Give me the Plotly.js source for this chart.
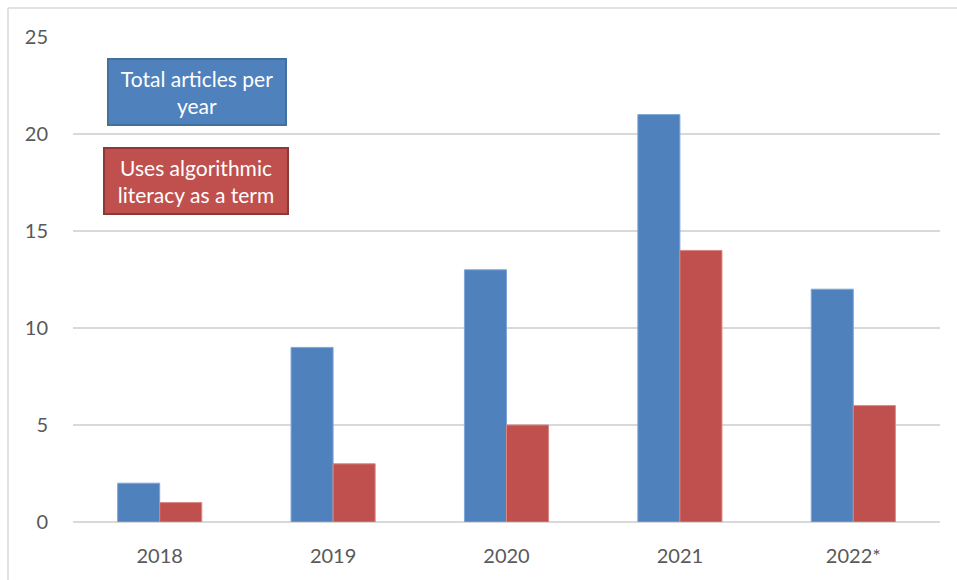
<!DOCTYPE html>
<html>
<head>
<meta charset="utf-8">
<script src="https://cdn.plot.ly/plotly-3.0.1.min.js"></script>
<style>html,body{margin:0;padding:0;background:#fff;}#chart{width:957px;height:580px;}</style>
</head>
<body>
<div id="chart"></div>
<script>
const years = ["2018", "2019", "2020", "2021", "2022*"];
const totalArticles = [2, 9, 13, 21, 12];
const usesTerm = [1, 3, 5, 14, 6];
const seriesNames = ["Total articles per<br>year", "Uses algorithmic<br>literacy as a term"];

const blue = "#4F81BD", red = "#C0504D";
const font = "Lato, 'Open Sans', sans-serif";

const traces = [
  {type: "bar", x: years, y: totalArticles, name: "Total articles per year",
   marker: {color: blue, line: {color: "#7EA6D8", width: 1}}, hoverinfo: "x+y"},
  {type: "bar", x: years, y: usesTerm, name: "Uses algorithmic literacy as a term",
   marker: {color: red, line: {color: "#D98583", width: 1}}, hoverinfo: "x+y"}
];

const layout = {
  width: 957, height: 580,
  margin: {l: 73, r: 17, t: 37, b: 58},
  paper_bgcolor: "#fff", plot_bgcolor: "#fff",
  barmode: "group", bargap: 0.515, bargroupgap: 0,
  showlegend: false,
  font: {family: font, color: "#595959", size: 20},
  xaxis: {
    type: "category", showgrid: false, showline: false, zeroline: false,
    ticks: "outside", ticklen: 16, tickcolor: "rgba(0,0,0,0)",
    tickfont: {family: font, size: 20, color: "#595959"}
  },
  yaxis: {
    range: [0, 25], dtick: 5, tick0: 0,
    showgrid: true, gridcolor: "#D9D9D9", gridwidth: 1.5,
    zeroline: true, zerolinecolor: "#D9D9D9", zerolinewidth: 1.5,
    showline: false, ticks: "outside", ticklen: 20, tickcolor: "rgba(0,0,0,0)",
    tickfont: {family: font, size: 20, color: "#595959"}
  },
  shapes: [
    {type: "line", xref: "paper", yref: "paper",
     x0: (8 - 73) / 867, x1: (960 - 73) / 867, y0: (522 - 8) / 485, y1: (522 - 8) / 485,
     line: {color: "#D9D9D9", width: 1.5}},
    {type: "line", xref: "paper", yref: "paper",
     x0: (8 - 73) / 867, x1: (8 - 73) / 867, y0: (522 - 8) / 485, y1: (522 - 600) / 485,
     line: {color: "#D9D9D9", width: 1.5}}
  ],
  annotations: [
    {xref: "paper", yref: "paper", x: (197 - 73) / 867, y: (522 - 92) / 485,
     xanchor: "center", yanchor: "middle", showarrow: false,
     text: seriesNames[0], align: "center",
     font: {family: font, size: 21, color: "#fff"},
     bgcolor: blue, bordercolor: "#41719C", borderwidth: 2, borderpad: 0,
     width: 176, height: 64},
    {xref: "paper", yref: "paper", x: (196 - 73) / 867, y: (522 - 181) / 485,
     xanchor: "center", yanchor: "middle", showarrow: false,
     text: seriesNames[1], align: "center",
     font: {family: font, size: 21, color: "#fff"},
     bgcolor: red, bordercolor: "#8C3836", borderwidth: 2, borderpad: 0,
     width: 182, height: 64}
  ]
};

Plotly.newPlot("chart", traces, layout, {displayModeBar: false, staticPlot: true});
</script>
</body>
</html>
